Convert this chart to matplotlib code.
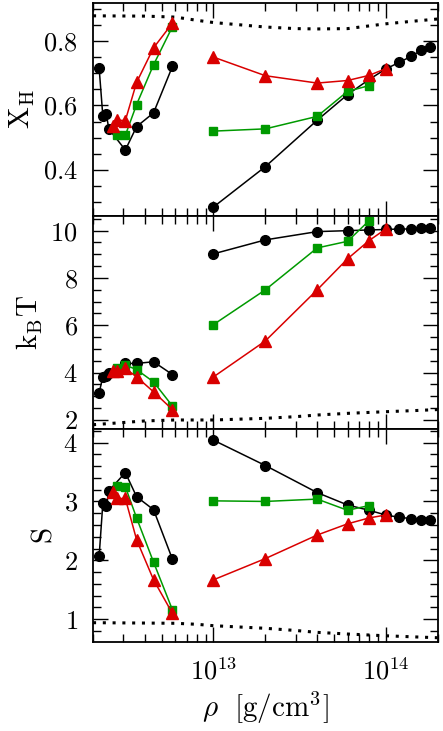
"""Three stacked panels (X_H, k_B T, S) against density, shared log x axis."""

import matplotlib

matplotlib.use("Agg")
import matplotlib.pyplot as plt  # noqa: E402
from matplotlib.ticker import MultipleLocator, NullFormatter  # noqa: E402

plt.rcParams["font.family"] = ["cmr10", "DejaVu Serif"]
plt.rcParams["mathtext.fontset"] = "cm"
plt.rcParams["axes.formatter.use_mathtext"] = True

# densities [g/cm^3]
rho_blk_lo = [2.17e12, 2.28e12, 2.39e12, 2.47e12, 3.08e12, 3.58e12, 4.49e12, 5.78e12]
rho_grn_lo = [2.75e12, 3.08e12, 3.58e12, 4.49e12, 5.78e12]
rho_red_lo = [2.6e12, 2.75e12, 3.08e12, 3.58e12, 4.49e12, 5.78e12]
rho_hi = [1e13, 2e13, 4e13, 6e13, 8e13, 1e14, 1.2e14, 1.4e14, 1.6e14, 1.8e14]

# hydrogen fraction X_H
xh_blk_lo = [0.717, 0.567, 0.572, 0.527, 0.461, 0.534, 0.577, 0.722]
xh_grn_lo = [0.507, 0.507, 0.603, 0.727, 0.846]
xh_red_lo = [0.537, 0.554, 0.553, 0.672, 0.780, 0.857]
xh_blk_hi = [0.283, 0.409, 0.554, 0.634, 0.681, 0.714, 0.735, 0.753, 0.772, 0.782]
xh_grn_hi = [0.520, 0.527, 0.566, 0.644, 0.662]
xh_red_hi = [0.751, 0.693, 0.670, 0.678, 0.694, 0.715]

# temperature k_B T
kt_blk_lo = [3.15, 3.82, 3.85, 4.0, 4.39, 4.39, 4.46, 3.92]
kt_grn_lo = [4.20, 4.32, 4.13, 3.61, 2.59]
kt_red_lo = [4.07, 4.05, 4.18, 3.82, 3.19, 2.44]
kt_blk_hi = [9.02, 9.61, 9.96, 10.0, 10.03, 10.05, 10.07, 10.07, 10.1, 10.1]
kt_grn_hi = [6.03, 7.50, 9.27, 9.55, 10.42]
kt_red_hi = [3.82, 5.34, 7.50, 8.81, 9.58, 10.07]

# entropy S
s_blk_lo = [2.07, 2.97, 2.92, 3.18, 3.49, 3.08, 2.86, 2.02]
s_grn_lo = [3.27, 3.25, 2.72, 1.97, 1.16]
s_red_lo = [3.16, 3.05, 3.05, 2.35, 1.67, 1.10]
s_blk_hi = [4.04, 3.61, 3.15, 2.94, 2.85, 2.77, 2.73, 2.71, 2.69, 2.68]
s_grn_hi = [3.01, 3.00, 3.04, 2.85, 2.93]
s_red_hi = [1.67, 2.03, 2.43, 2.62, 2.72, 2.77]

# dotted reference curves
rho_dot = [2e12, 4e12, 6e12, 8e12, 1e13, 2e13, 3e13, 4e13, 6e13, 1e14, 1.5e14, 2e14]
xh_dot = [0.880, 0.879, 0.876, 0.866, 0.859, 0.845, 0.840, 0.839, 0.840, 0.855, 0.864, 0.870]
kt_dot = [1.80, 1.96, 2.00, 2.00, 2.00, 2.07, 2.14, 2.21, 2.28, 2.35, 2.40, 2.44]
s_dot = [0.942, 0.936, 0.932, 0.915, 0.891, 0.847, 0.81, 0.778, 0.75, 0.72, 0.70, 0.687]

BLACK, GREEN, RED = "black", "#009a00", "#d90000"

fig, axes = plt.subplots(3, 1, sharex=True, figsize=(4.43, 7.31), dpi=100)
fig.subplots_adjust(left=0.21, right=0.9887, top=0.9959, bottom=0.1218, hspace=0)

panels = [
    (xh_blk_lo, xh_grn_lo, xh_red_lo, xh_blk_hi, xh_grn_hi, xh_red_hi, xh_dot),
    (kt_blk_lo, kt_grn_lo, kt_red_lo, kt_blk_hi, kt_grn_hi, kt_red_hi, kt_dot),
    (s_blk_lo, s_grn_lo, s_red_lo, s_blk_hi, s_grn_hi, s_red_hi, s_dot),
]

for ax, (blo, glo, rlo, bhi, ghi, rhi, dot) in zip(axes, panels):
    ax.plot(rho_dot, dot, color="black", lw=2.2, ls=(0, (1.0, 2.2)),
            dash_capstyle="butt")
    style = dict(lw=1.1, clip_on=False)
    ax.plot(rho_blk_lo, blo, "o-", color=BLACK, ms=7, **style)
    ax.plot(rho_hi, bhi, "o-", color=BLACK, ms=7, **style)
    ax.plot(rho_grn_lo, glo, "s-", color=GREEN, ms=6.3, **style)
    ax.plot(rho_hi[:len(ghi)], ghi, "s-", color=GREEN, ms=6.3, **style)
    ax.plot(rho_red_lo, rlo, "^-", color=RED, ms=8.8, **style)
    ax.plot(rho_hi[:len(rhi)], rhi, "^-", color=RED, ms=8.8, **style)

    ax.set_xscale("log")
    ax.tick_params(which="both", direction="in", top=True, right=True,
                   labelsize=19, pad=11, width=1.0)
    ax.tick_params(which="major", length=11)
    ax.tick_params(which="minor", length=5.5)
    for sp in ax.spines.values():
        sp.set_linewidth(1.3)

axes[0].set_ylim(0.255, 0.92)
axes[0].yaxis.set_major_locator(MultipleLocator(0.2))
axes[0].yaxis.set_minor_locator(MultipleLocator(0.05))
axes[0].set_ylabel(r"$\mathrm{X_H}$", fontsize=21)

axes[1].set_ylim(1.62, 10.62)
axes[1].yaxis.set_major_locator(MultipleLocator(2))
axes[1].yaxis.set_minor_locator(MultipleLocator(0.5))
axes[1].set_ylabel(r"$\mathrm{k_B T}$", fontsize=21)

axes[2].set_ylim(0.615, 4.23)
axes[2].yaxis.set_major_locator(MultipleLocator(1))
axes[2].yaxis.set_minor_locator(MultipleLocator(0.2))
axes[2].set_ylabel(r"$\mathrm{S}$", fontsize=21)

axes[2].set_xlim(2e12, 2.01e14)
axes[2].xaxis.set_minor_formatter(NullFormatter())
axes[2].set_xlabel(r"$\rho\ \ [\mathrm{g/cm^3}]$", fontsize=21)

fig.savefig("out.png", dpi=100)
